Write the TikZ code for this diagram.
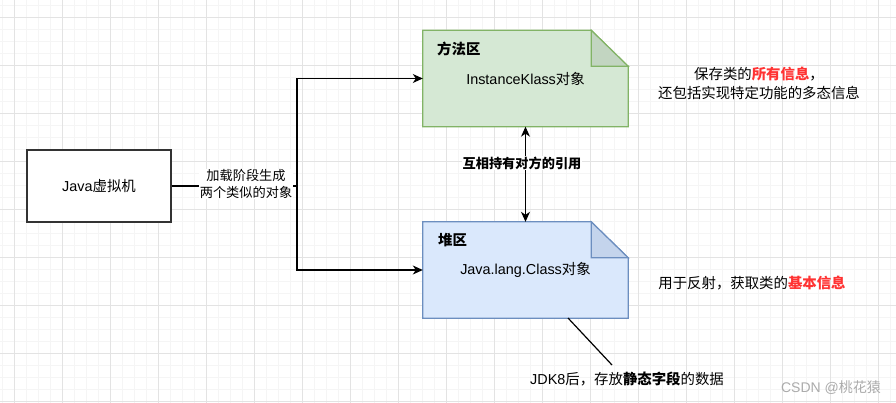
\documentclass[tikz,border=0pt]{standalone}
\usepackage{fontspec}
\setmainfont{Liberation Sans}
\newfontfamily\cjk{Noto Sans CJK SC}
\usetikzlibrary{arrows.meta,backgrounds}
\definecolor{gminor}{HTML}{F5F5F5}
\definecolor{gmajor}{HTML}{E3E3E3}
\definecolor{greenfill}{HTML}{D5E8D4}
\definecolor{greenline}{HTML}{82B366}
\definecolor{greenfold}{HTML}{C2D5C1}
\definecolor{bluefill}{HTML}{DAE8FC}
\definecolor{blueline}{HTML}{6C8EBF}
\definecolor{bluefold}{HTML}{C4D4EC}
\definecolor{hl}{HTML}{FF3333}
\definecolor{wm}{HTML}{ABABAB}
\newcommand\fA{\fontsize{14.4pt}{19pt}\selectfont}
\newcommand\fB{\fontsize{13.2pt}{17.5pt}\selectfont}
\tikzset{
  minorgrid/.style={draw=gminor, line width=0.9pt},
  majorgrid/.style={draw=gmajor, line width=1pt},
  notebox/.style={draw=none, fill=none, minimum width=205pt, minimum height=96pt, inner sep=0pt, font=\fA},
  plainbox/.style={draw=black!80, line width=1.2pt, fill=white, minimum width=144pt, minimum height=72pt, inner sep=0pt, font=\fA},
  edge/.style={draw=black, line width=1.2pt, -{Stealth[length=10pt,width=9pt,inset=3pt]}},
  dedge/.style={draw=black, line width=1.2pt, {Stealth[length=10pt,width=9pt,inset=3pt]}-{Stealth[length=10pt,width=9pt,inset=3pt]}},
  elabel/.style={fill=white, inner sep=0.5pt, align=center, font=\fB},
  txt/.style={inner sep=0pt, align=center, font=\fA},
  titletxt/.style={inner sep=0pt, anchor=west, font=\fA\bfseries},
}
\begin{document}
\begin{tikzpicture}[x=1pt,y=-1pt]
\useasboundingbox (0,0) rectangle (896,403);
\begin{scope}[on background layer]
  \fill[white] (0,0) rectangle (896,403);
  \foreach \i in {0,...,74} {\draw[minorgrid] ({2.3+12*\i},0) -- ({2.3+12*\i},403);}
  \foreach \i in {0,...,33} {\draw[minorgrid] (0,{5.3+12*\i}) -- (896,{5.3+12*\i});}
  \foreach \i in {0,...,18} {\draw[majorgrid] ({14.3+48*\i},0) -- ({14.3+48*\i},403);}
  \foreach \i in {0,...,8} {\draw[majorgrid] (0,{17.3+48*\i}) -- (896,{17.3+48*\i});}
\end{scope}

% nodes
\node[plainbox] (jvm) at (99,186) {Java{\cjk 虚拟机}};
\node[notebox] (mz) at (525.5,78.5) {InstanceKlass{\cjk 对象}};
\node[notebox] (heap) at (525.5,270) {Java.lang.Class{\cjk 对象}};
\node[titletxt] (mzt) at (437,49) {{\cjk\bfseries 方法区}};
\node[titletxt] (heapt) at (438,240) {{\cjk\bfseries 堆区}};

\begin{scope}[on background layer]
  \draw[fill=greenfill, draw=greenline, line width=1.2pt, line join=miter]
    (mz.north west) -- ([xshift=-37pt]mz.north east) -- ([yshift=-36pt]mz.north east)
    -- (mz.south east) -- (mz.south west) -- cycle;
  \draw[fill=greenfold, draw=greenline, line width=1.2pt]
    ([xshift=-37pt]mz.north east) -- ([xshift=-37pt,yshift=-36pt]mz.north east)
    -- ([yshift=-36pt]mz.north east) -- cycle;
  \draw[fill=bluefill, draw=blueline, line width=1.2pt, line join=miter]
    (heap.north west) -- ([xshift=-37pt]heap.north east) -- ([yshift=-36pt]heap.north east)
    -- (heap.south east) -- (heap.south west) -- cycle;
  \draw[fill=bluefold, draw=blueline, line width=1.2pt]
    ([xshift=-37pt]heap.north east) -- ([xshift=-37pt,yshift=-36pt]heap.north east)
    -- ([yshift=-36pt]heap.north east) -- cycle;
\end{scope}

% connectors
\coordinate (split) at (297,186);
\draw[edge] (jvm.east) -- (split) |- (mz.west);
\draw[edge] (split) |- (heap.west);
\node[elabel] (lbl1) at (246,184) {{\cjk 加载阶段生成}\\{\cjk 两个类似的对象}};

\draw[dedge] (mz.south) -- (heap.north);
\node[elabel] (lbl2) at (522,163) {{\cjk\bfseries 互相持有对方的引用}};

% annotations
\node[txt] (info1) at (759,83.5) {{\cjk 保存类的}{\cjk\bfseries\color{hl}所有信息}{\cjk ，}\\{\cjk 还包括实现特定功能的多态信息}};
\node[txt] (info2) at (752,283) {{\cjk 用于反射，获取类的}{\cjk\bfseries\color{hl}基本信息}};
\node[txt] (info3) at (627,379) {JDK8{\cjk 后，存放}{\cjk\bfseries 静态字段}{\cjk 的数据}};
\coordinate (c1) at (568,318);
\coordinate (c2) at (612,365);
\draw[line width=1.2pt, black] (c1) -- (c2);

\node[inner sep=0pt, text=wm, font=\fontsize{14pt}{16pt}\selectfont] (mark) at (831,388) {CSDN @{\cjk 桃花猿}};
\end{tikzpicture}
\end{document}
